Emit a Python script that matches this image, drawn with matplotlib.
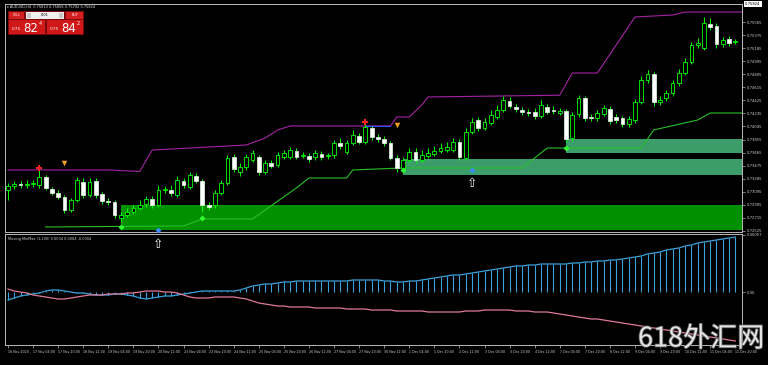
import numpy as np
import matplotlib
matplotlib.use("Agg")
import matplotlib.pyplot as plt
from matplotlib.patches import Rectangle
import matplotlib.transforms as mtransforms
import matplotlib.patheffects as pe

# ---------------- data (AUDUSD, H4) ----------------
opens = [0.73120,0.73179,0.73208,0.73193,0.73208,0.73193,0.73310,0.73135,0.73077,0.73019,
         0.72830,0.72975,0.73237,0.73048,0.73251,0.73062,0.72960,0.72946,0.72713,0.72757,
         0.72801,0.72859,0.72917,0.72990,0.72902,0.73120,0.73120,0.73048,0.73251,0.73164,
         0.73324,0.73251,0.72902,0.72902,0.73077,0.73222,0.73601,0.73382,0.73455,0.73557,
         0.73601,0.73382,0.73513,0.73484,0.73601,0.73601,0.73688,0.73615,0.73615,0.73601,
         0.73644,0.73615,0.73630,0.73804,0.73673,0.73804,0.73906,0.73819,0.74023,0.73892,
         0.73863,0.73804,0.73586,0.73441,0.73557,0.73673,0.73557,0.73615,0.73644,0.73688,
         0.73702,0.73702,0.73819,0.73586,0.73964,0.74139,0.74023,0.74095,0.74183,0.74285,
         0.74415,0.74328,0.74285,0.74255,0.74255,0.74197,0.74328,0.74285,0.74241,0.74270,
         0.73877,0.74226,0.74459,0.74183,0.74168,0.74226,0.74299,0.74183,0.74168,0.74081,
         0.74139,0.74401,0.74721,0.74808,0.74401,0.74459,0.74532,0.74677,0.74823,0.74983,
         0.75230,0.75187,0.75536,0.75507,0.75245,0.75318,0.75274]
highs = [0.73222,0.73251,0.73251,0.73266,0.73266,0.73412,0.73339,0.73164,0.73120,0.73048,
         0.73004,0.73310,0.73295,0.73295,0.73295,0.73091,0.73004,0.72975,0.72801,0.72859,
         0.72902,0.72975,0.73033,0.73033,0.73193,0.73179,0.73193,0.73324,0.73295,0.73382,
         0.73368,0.73281,0.72946,0.73120,0.73266,0.73630,0.73644,0.73513,0.73644,0.73702,
         0.73630,0.73557,0.73557,0.73673,0.73702,0.73746,0.73731,0.73673,0.73659,0.73702,
         0.73688,0.73659,0.73848,0.73877,0.73848,0.73994,0.73950,0.74081,0.74052,0.73935,
         0.73906,0.73834,0.73630,0.73601,0.73731,0.73731,0.73702,0.73731,0.73761,0.73804,
         0.73819,0.73877,0.73863,0.74023,0.74168,0.74183,0.74168,0.74285,0.74357,0.74488,
         0.74474,0.74372,0.74328,0.74299,0.74314,0.74430,0.74372,0.74343,0.74314,0.74299,
         0.74255,0.74503,0.74488,0.74226,0.74285,0.74357,0.74343,0.74226,0.74197,0.74197,
         0.74445,0.74779,0.74867,0.74837,0.74488,0.74576,0.74721,0.74881,0.75041,0.75274,
         0.75332,0.75638,0.75623,0.75550,0.75347,0.75361,0.75318]
lows = [0.72975,0.73135,0.73150,0.73150,0.73164,0.73150,0.73120,0.73048,0.72990,0.72786,
        0.72801,0.72946,0.73004,0.73019,0.73004,0.72917,0.72902,0.72713,0.72655,0.72728,
        0.72771,0.72830,0.72873,0.72859,0.72873,0.73077,0.73033,0.73019,0.73150,0.73135,
        0.73222,0.72801,0.72830,0.72859,0.73048,0.73193,0.73382,0.73324,0.73412,0.73528,
        0.73339,0.73353,0.73441,0.73455,0.73572,0.73572,0.73572,0.73586,0.73528,0.73557,
        0.73557,0.73572,0.73586,0.73717,0.73644,0.73775,0.73790,0.73790,0.73848,0.73819,
        0.73761,0.73557,0.73382,0.73382,0.73513,0.73513,0.73528,0.73586,0.73615,0.73659,
        0.73673,0.73673,0.73557,0.73557,0.73935,0.73979,0.73994,0.74066,0.74154,0.74255,
        0.74314,0.74255,0.74212,0.74197,0.74154,0.74168,0.74226,0.74226,0.74212,0.73819,
        0.73834,0.74183,0.74124,0.74124,0.74124,0.74197,0.74081,0.74095,0.74037,0.74037,
        0.74095,0.74372,0.74677,0.74343,0.74357,0.74415,0.74488,0.74634,0.74794,0.74954,
        0.75187,0.75158,0.75449,0.75187,0.75201,0.75216,0.75245]
closes = [0.73179,0.73208,0.73193,0.73208,0.73222,0.73310,0.73150,0.73077,0.73019,0.72830,
          0.72975,0.73266,0.73048,0.73237,0.73048,0.72960,0.72946,0.72757,0.72757,0.72801,
          0.72859,0.72902,0.72990,0.72902,0.73120,0.73135,0.73077,0.73266,0.73193,0.73339,
          0.73251,0.72902,0.72873,0.73077,0.73222,0.73586,0.73426,0.73455,0.73601,0.73659,
          0.73382,0.73513,0.73470,0.73630,0.73659,0.73702,0.73601,0.73630,0.73572,0.73659,
          0.73601,0.73630,0.73804,0.73761,0.73804,0.73921,0.73819,0.74037,0.73892,0.73863,
          0.73804,0.73586,0.73441,0.73557,0.73673,0.73557,0.73630,0.73659,0.73688,0.73731,
          0.73746,0.73819,0.73601,0.73964,0.74110,0.74023,0.74110,0.74212,0.74285,0.74430,
          0.74343,0.74299,0.74255,0.74241,0.74197,0.74357,0.74255,0.74270,0.74270,0.73863,
          0.74212,0.74459,0.74168,0.74168,0.74241,0.74314,0.74124,0.74139,0.74081,0.74154,
          0.74401,0.74721,0.74808,0.74401,0.74430,0.74532,0.74677,0.74823,0.74983,0.75230,
          0.75259,0.75550,0.75492,0.75245,0.75303,0.75259,0.75288]

# channel lines (bar index, price)
upper_bars = [0, 16, 21, 23, 38, 41, 43, 45, 61, 62, 64, 66, 67, 88, 90, 94, 100, 106, 108, 117]
upper_vals = [0.73412, 0.73412, 0.73390, 0.73702, 0.73775, 0.73877, 0.73994, 0.74052, 0.74052,
              0.74183, 0.74183, 0.74357, 0.74474, 0.74500, 0.74823, 0.74823, 0.75638, 0.75667,
              0.75710, 0.75710]
lower_bars = [6, 28, 31, 39, 46, 48, 54, 55, 63, 82, 86, 101, 103, 110, 112, 117]
lower_vals = [0.72582, 0.72597, 0.72699, 0.72699, 0.73150, 0.73295, 0.73295, 0.73412, 0.73441,
              0.73441, 0.73731, 0.73731, 0.73994, 0.74139, 0.74241, 0.74241]

# support zones: start bar, top price, bottom price
zone_start = [18, 63, 89]
zone_top = [0.72902, 0.73572, 0.73863]
zone_bottom = [0.72540, 0.73339, 0.73659]
zone_color = ["#009000", "#3c9d6b", "#3c9d6b"]

# signal markers
red_bars, red_prices = [5, 57], [0.73441, 0.74110]
orange_bars, orange_prices = [9, 62], [0.73513, 0.74066]
diamond_bars, diamond_prices = [18, 31, 63, 89], [0.72582, 0.72713, 0.73412, 0.73731]
blue_bars, blue_prices = [24, 74], [0.72539, 0.73412]
arrow_bars, arrow_prices = [24, 74], [0.72320, 0.73222]

price_ticks = [0.75565, 0.75375, 0.75185, 0.74995, 0.74805, 0.74615, 0.74425, 0.74235, 0.74045,
               0.73855, 0.73665, 0.73475, 0.73285, 0.73095, 0.72905, 0.72715, 0.72525]
bid_price, ask_price = 0.75824, 0.75842

# oscillator (units of 1e-5)
osc_main_e5 = [-8,-6,-4,-3,-2,-1,1,2,2,1,
               0,-1,-1,-2,-3,-3,-3,-2,-2,-3,
               -4,-6,-7,-6,-5,-4,-4,-3,-2,-1,
               0,1,1,1,1,1,1,2,4,6,
               7,8,8,9,10,10,11,11,11,11,
               11,11,11,11,11,12,12,12,12,12,
               11,11,10,10,11,11,12,13,14,15,
               16,17,17,18,19,20,21,22,23,24,
               25,26,26,27,27,28,28,28,28,28,
               29,29,30,30,31,31,32,32,33,34,
               35,36,38,39,40,42,43,44,46,47,
               49,50,51,52,53,54,55]
osc_signal_e5 = [3,1,0,-1,-3,-4,-5,-6,-7,-7,
                 -6,-5,-4,-3,-3,-3,-2,-2,-2,-1,
                 -1,0,1,1,1,0,0,-1,-3,-5,
                 -6,-6,-6,-5,-5,-5,-5,-6,-7,-9,
                 -11,-12,-13,-14,-14,-15,-15,-15,-15,-16,
                 -16,-16,-16,-16,-17,-17,-17,-17,-18,-18,
                 -18,-18,-19,-19,-19,-19,-19,-20,-20,-20,
                 -20,-20,-20,-19,-19,-19,-18,-18,-18,-18,
                 -18,-19,-19,-19,-20,-20,-20,-21,-22,-23,
                 -24,-25,-26,-27,-27,-28,-29,-30,-31,-32,
                 -33,-34,-35,-36,-37,-38,-39,-40,-41,-42,
                 -43,-44,-45,-46,-47,-48,-49]

date_labels = ["16 Nov 2020", "17 Nov 04:00", "17 Nov 20:00", "18 Nov 12:00", "19 Nov 04:00",
               "19 Nov 20:00", "20 Nov 12:00", "23 Nov 04:00", "23 Nov 20:00", "24 Nov 12:00",
               "25 Nov 04:00", "25 Nov 20:00", "26 Nov 12:00", "27 Nov 04:00", "27 Nov 20:00",
               "30 Nov 12:00", "1 Dec 04:00", "1 Dec 20:00", "2 Dec 12:00", "3 Dec 04:00",
               "3 Dec 20:00", "4 Dec 12:00", "7 Dec 04:00", "7 Dec 20:00", "8 Dec 12:00",
               "9 Dec 04:00", "9 Dec 20:00", "10 Dec 12:00", "11 Dec 04:00", "11 Dec 20:00"]
label_every = 4

# ---------------- figure ----------------
W, H = 768, 365
fig = plt.figure(figsize=(7.68, 3.65), dpi=100, facecolor="black")
def fx(px): return px / W
def fy(py): return 1 - py / H

axi = fig.add_axes([fx(5), fy(345), fx(742) - fx(5), fy(234) - fy(345)], facecolor="black")
ax = fig.add_axes([fx(5), fy(232), fx(742) - fx(5), fy(4) - fy(232)], facecolor="black")
ax.set_zorder(2)
axi.set_zorder(1)

o = np.array(opens); h = np.array(highs); l = np.array(lows); c = np.array(closes)
x = np.arange(len(o))
xl = (-0.48, 117.07)

for a in (ax, axi):
    a.set_xlim(*xl)
    for s in a.spines.values():
        s.set_color("#b8b8b8"); s.set_linewidth(0.7)

ax.set_ylim(0.72509, 0.75827)

# zones
for s0, t, b, col in zip(zone_start, zone_top, zone_bottom, zone_color):
    ax.add_patch(Rectangle((s0, b), xl[1] - s0 + 1, t - b, facecolor=col, edgecolor="none", zorder=1))

# channel lines
ax.plot(upper_bars, upper_vals, color="#a424a4", lw=0.8, zorder=2)
ax.plot([57, 61], [upper_vals[7], upper_vals[8]], color="#3050ff", lw=0.8, zorder=2)
ax.plot(lower_bars, lower_vals, color="#28c028", lw=0.8, zorder=2)

# candles
up = c >= o
ax.vlines(x, l, h, color="#00ff00", lw=0.7, zorder=3)
body_lo = np.minimum(o, c)
body_h = np.maximum(np.abs(c - o), 0.00003)
ax.bar(x[up], body_h[up], bottom=body_lo[up], width=0.6, color="black",
       edgecolor="#00ff00", linewidth=0.6, zorder=4)
ax.bar(x[~up], body_h[~up], bottom=body_lo[~up], width=0.6, color="white",
       edgecolor="#e8ffe8", linewidth=0.5, zorder=4)

# markers
ax.scatter(red_bars, red_prices, marker="P", s=22, color="#ff2020", zorder=6, linewidths=0)
ax.scatter(orange_bars, orange_prices, marker="v", s=16, color="#f0a020", zorder=6, linewidths=0)
ax.scatter(diamond_bars, diamond_prices, marker="D", s=9, color="#30ff30", zorder=6, linewidths=0)
ax.scatter(blue_bars, blue_prices, marker="D", s=9, color="#3a8cff", zorder=6, linewidths=0)
for b, p in zip(arrow_bars, arrow_prices):
    ax.text(b, p, "\u21e7", color="white", fontsize=9, ha="center", va="center",
            zorder=7, clip_on=False, family="DejaVu Sans")

# price axis
ax.yaxis.tick_right()
ax.set_yticks(price_ticks)
ax.set_yticklabels([f"{v:.5f}" for v in price_ticks])
ax.tick_params(axis="y", colors="#b8b8b8", labelcolor="#d0d0d0", labelsize=2.7,
               length=2, width=0.5, pad=1.5, direction="out")
ax.tick_params(axis="x", length=0, labelbottom=False)
trans = mtransforms.blended_transform_factory(ax.transAxes, ax.transData)
ax.text(1.004, bid_price, f"{bid_price:.5f}", transform=trans, fontsize=2.7, color="black",
        va="center", ha="left", clip_on=False,
        bbox=dict(facecolor="white", edgecolor="none", pad=0.8))

# ---------------- indicator ----------------
osc = np.array(osc_main_e5) * 1e-5
sig = np.array(osc_signal_e5) * 1e-5
axi.set_ylim(-0.00053, 0.00058)
axi.vlines(x, 0, osc, color="#3aa2dc", lw=0.8)
axi.plot(x, osc, color="#3aa2dc", lw=0.9)
axi.plot(x, sig, color="#e07a96", lw=0.9)
axi.yaxis.tick_right()
axi.set_yticks([0.00057, 0.0])
axi.set_yticklabels(["0.00057", "0.00"])
axi.tick_params(axis="y", colors="#b8b8b8", labelcolor="#d0d0d0", labelsize=2.7,
                length=2, width=0.5, pad=1.5)
tick_pos = np.arange(len(date_labels)) * label_every
axi.set_xticks(tick_pos)
axi.set_xticklabels(date_labels, ha="left")
axi.tick_params(axis="x", colors="#b8b8b8", labelcolor="#d0d0d0", labelsize=2.3,
                length=2, width=0.5, pad=1.5)
axi.text(0.004, 0.975, "Moving MinMax (1,100) 0.0004 0.0004 -0.0004", transform=axi.transAxes,
         fontsize=2.5, color="#d8d8d8", va="top", ha="left")

# ---------------- one-click trading panel ----------------
def box(x0, y0, x1, y1, col, ec="none"):
    fig.add_artist(Rectangle((fx(x0), fy(y1)), fx(x1) - fx(x0), fy(y0) - fy(y1),
                             transform=fig.transFigure, facecolor=col, edgecolor=ec, lw=0.4,
                             zorder=10))

fig.text(fx(7), fy(7), "\u25be AUDUSD,H4  0.75810 0.75856 0.75792 0.75824",
         fontsize=2.5, color="#e0e0e0", va="center", ha="left", zorder=11)
box(8, 11, 84, 35, "#7a0a0a")
box(9, 12, 24, 19, "#d42020")
box(26, 12, 64, 19, "#eeeeee")
box(27, 13, 31, 18, "#c8c8c8")
box(59, 13, 63, 18, "#c8c8c8")
box(66, 12, 83, 19, "#d42020")
box(9, 20, 45, 34, "#d01818")
box(47, 20, 83, 34, "#d01818")
fig.text(fx(16.5), fy(15.5), "SELL", fontsize=2.3, color="white", ha="center", va="center", zorder=11)
fig.text(fx(74.5), fy(15.5), "BUY", fontsize=2.3, color="white", ha="center", va="center", zorder=11)
fig.text(fx(45), fy(15.5), "0.01", fontsize=2.5, color="black", ha="center", va="center", zorder=11)
bid_s = f"{bid_price:.5f}"
ask_s = f"{ask_price:.5f}"
for x0, s in ((9, bid_s), (47, ask_s)):
    fig.text(fx(x0 + 3), fy(29.5), s[:4], fontsize=3.0, color="white", ha="left", va="center", zorder=11)
    fig.text(fx(x0 + 14), fy(28), s[4:6], fontsize=8.5, color="white", ha="left", va="center", zorder=11)
    fig.text(fx(x0 + 30), fy(23.5), s[6], fontsize=3.6, color="white", ha="left", va="center", zorder=11)

# watermark
fig.text(fx(638), fy(339), "618外汇网", fontsize=19.5, color="#e4e4e4", ha="left", va="center",
         family=["Noto Sans CJK SC", "DejaVu Sans"], zorder=12,
         path_effects=[pe.withStroke(linewidth=1.2, foreground="#606060")])

fig.savefig("out.png", dpi=100, facecolor="black")
